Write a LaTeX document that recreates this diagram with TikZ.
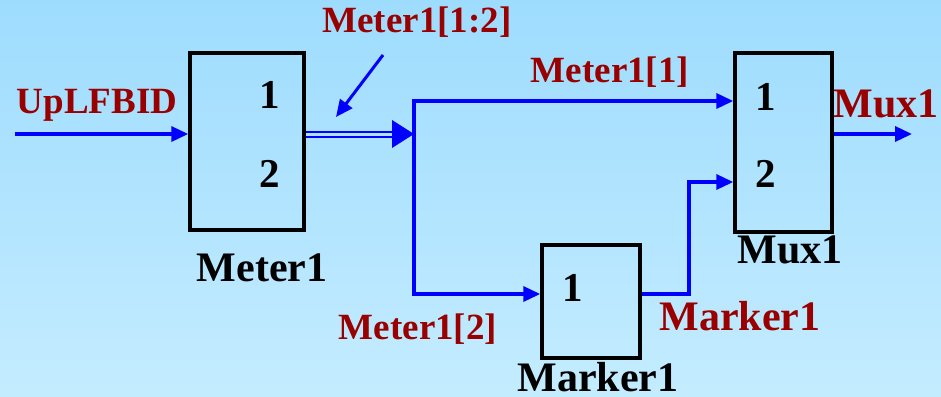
\documentclass[tikz,border=0pt]{standalone}
\usepackage{fontspec}
\setmainfont{Liberation Serif}
\usepackage{xcolor}
\usetikzlibrary{arrows.meta,positioning,calc}

\definecolor{sigred}{RGB}{153,0,0}
\definecolor{bgtop}{RGB}{158,220,254}
\definecolor{bgbot}{RGB}{196,236,255}

\tikzset{
    blockbox/.style={draw=black, line width=3.5pt, inner sep=0pt},
    portnum/.style={font=\bfseries\fontsize{41}{41}\selectfont, inner sep=0pt},
    blockname/.style={font=\bfseries\fontsize{42}{42}\selectfont, inner sep=0pt},
    siglabel/.style={text=sigred, font=\bfseries\fontsize{37}{37}\selectfont, inner sep=0pt},
    biglabel/.style={text=sigred, font=\bfseries\fontsize{42}{42}\selectfont, inner sep=0pt},
    sig/.style={draw=blue, line width=3.5pt, -{Triangle[length=17pt,width=15pt]}},
    bus/.style={draw=blue, line width=2pt, double=bgtop!60!bgbot, double distance=3pt}
}

\begin{document}
\begin{tikzpicture}[x=1pt,y=-1pt]
    % background
    \shade[top color=bgtop, bottom color=bgbot] (0,0) rectangle (941,396);
    \useasboundingbox (0,0) rectangle (941,396);

    % blocks
    \node [blockbox, minimum width=114pt, minimum height=177pt] (meter) at (247,141.5) {};
    \node [blockbox, minimum width=97pt, minimum height=179pt] (mux) at (783.5,142.5) {};
    \node [blockbox, minimum width=98pt, minimum height=113pt] (marker) at (591,301.5) {};

    \node [portnum] (meterA) at (270,95) {1};
    \node [portnum] (meterB) at (270,174) {2};
    \node [portnum] (muxA) at (766,97) {1};
    \node [portnum] (muxB) at (766,174) {2};
    \node [portnum] (markerA) at (573,288) {1};

    \node [blockname] (meterName) at (262,268) {Meter1};
    \node [blockname] (muxName) at (790,250) {Mux1};
    \node [blockname] (markerName) at (598,377) {Marker1};

    % rows and corners
    \coordinate (inStart) at (15,134);
    \coordinate (split) at (414,134);
    \coordinate (rowA) at (0,101);
    \coordinate (rowB) at (0,182);
    \coordinate (rowC) at (0,294);
    \coordinate (outEnd) at (912,134);
    \coordinate (noteStart) at (383,55);
    \coordinate (noteEnd) at (336,117);

    % signals
    \draw [sig] (inStart) -- (meter.west |- inStart);
    \draw [bus] (meter.east |- split) -- ($(split)+(-20,0)$);
    \fill [blue] (split) -- ++(-22,-14) -- ++(0,28) -- cycle;
    \draw [sig] ($(split)+(0,1.75)$) |- (mux.west |- rowA);
    \draw [sig] ($(split)+(0,-1.75)$) |- (marker.west |- rowC);
    \draw [sig] (marker.east |- rowC) -- ++(47,0) |- (mux.west |- rowB);
    \draw [sig] (mux.east |- split) -- (outEnd);
    \draw [sig, line width=3pt] (noteStart) -- (noteEnd);

    % labels
    \node [siglabel] (inLbl) at (97,105) {UpLFBID};
    \node [siglabel] (busLbl) at (417,22) {Meter1[1:2]};
    \node [siglabel] (topLbl) at (610,72) {Meter1[1]};
    \node [siglabel] (botLbl) at (418,329) {Meter1[2]};
    \node [biglabel] (markerLbl) at (740,316) {Marker1};
    \node [biglabel] (muxLbl) at (886,104) {Mux1};
\end{tikzpicture}
\end{document}
